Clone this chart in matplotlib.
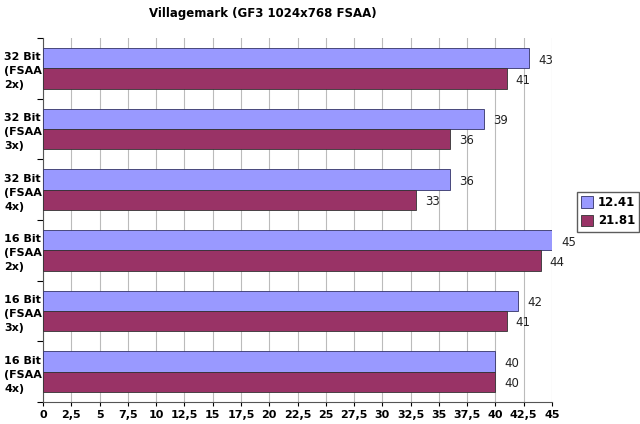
import matplotlib
matplotlib.use("Agg")
import matplotlib.pyplot as plt
import numpy as np

categories = ["32 Bit\n(FSAA\n2x)", "32 Bit\n(FSAA\n3x)", "32 Bit\n(FSAA\n4x)",
              "16 Bit\n(FSAA\n2x)", "16 Bit\n(FSAA\n3x)", "16 Bit\n(FSAA\n4x)"]
series_names = ["12.41", "21.81"]
s1 = [43, 39, 36, 45, 42, 40]
s2 = [41, 36, 33, 44, 41, 40]
xticks = np.arange(0, 45.01, 2.5)
xticklabels = [("%g" % v).replace(".", ",") for v in xticks]

colors = ["#9999FF", "#993366"]

fig = plt.figure(figsize=(6.4, 4.24), dpi=100)
ax = fig.add_axes([43/640, 1-402/424, (552-43)/640, (402-38)/424])

n = len(categories)
pos = np.arange(n)
h = 1/3
b1 = ax.barh(pos - h/2, s1, height=h, color=colors[0], edgecolor="#333366", linewidth=0.6, label=series_names[0], zorder=3)
b2 = ax.barh(pos + h/2, s2, height=h, color=colors[1], edgecolor="#333333", linewidth=0.6, label=series_names[1], zorder=3)

for bars, vals in ((b1, s1), (b2, s2)):
    for bar, v in zip(bars, vals):
        ax.text(v + 0.8, bar.get_y() + bar.get_height()/2 + 0.03, "%d" % v,
                va="center", ha="left", fontsize=8.5, color="#222222")

ax.set_xlim(0, 45)
ax.set_ylim(n - 0.5, -0.5)
ax.set_xticks(xticks)
ax.set_xticklabels(xticklabels, fontsize=8, fontweight="bold")
ax.set_yticks(np.arange(-0.5, n, 1))
ax.set_yticklabels([])
ax.set_yticks(pos, minor=True)
ax.set_yticklabels(categories, minor=True, fontsize=8, fontweight="bold", ha="left", linespacing=1.5)
ax.tick_params(axis="y", which="minor", length=0, pad=28)
ax.tick_params(axis="y", which="major", length=4, direction="out")
ax.tick_params(axis="x", length=3, direction="out", pad=3)
ax.xaxis.grid(True, color="#BBBBBB", linewidth=0.8, zorder=0)
ax.set_axisbelow(True)
for s in ("top", "right"):
    ax.spines[s].set_visible(False)
ax.spines["left"].set_color("#555555")
ax.spines["bottom"].set_color("#555555")

fig.text(263/640, 1-14/424, "Villagemark (GF3 1024x768 FSAA)", fontsize=8.5,
         fontweight="bold", ha="center", va="center")

leg = fig.legend(loc="upper left", bbox_to_anchor=(577/640, 1-192/424), fontsize=8.5,
                 frameon=True, fancybox=False, edgecolor="#333333", handlelength=1.0,
                 handleheight=1.1, borderpad=0.35, labelspacing=0.45, handletextpad=0.4,
                 borderaxespad=0)
for t in leg.get_texts():
    t.set_fontweight("bold")

fig.savefig("out.png", dpi=100)
